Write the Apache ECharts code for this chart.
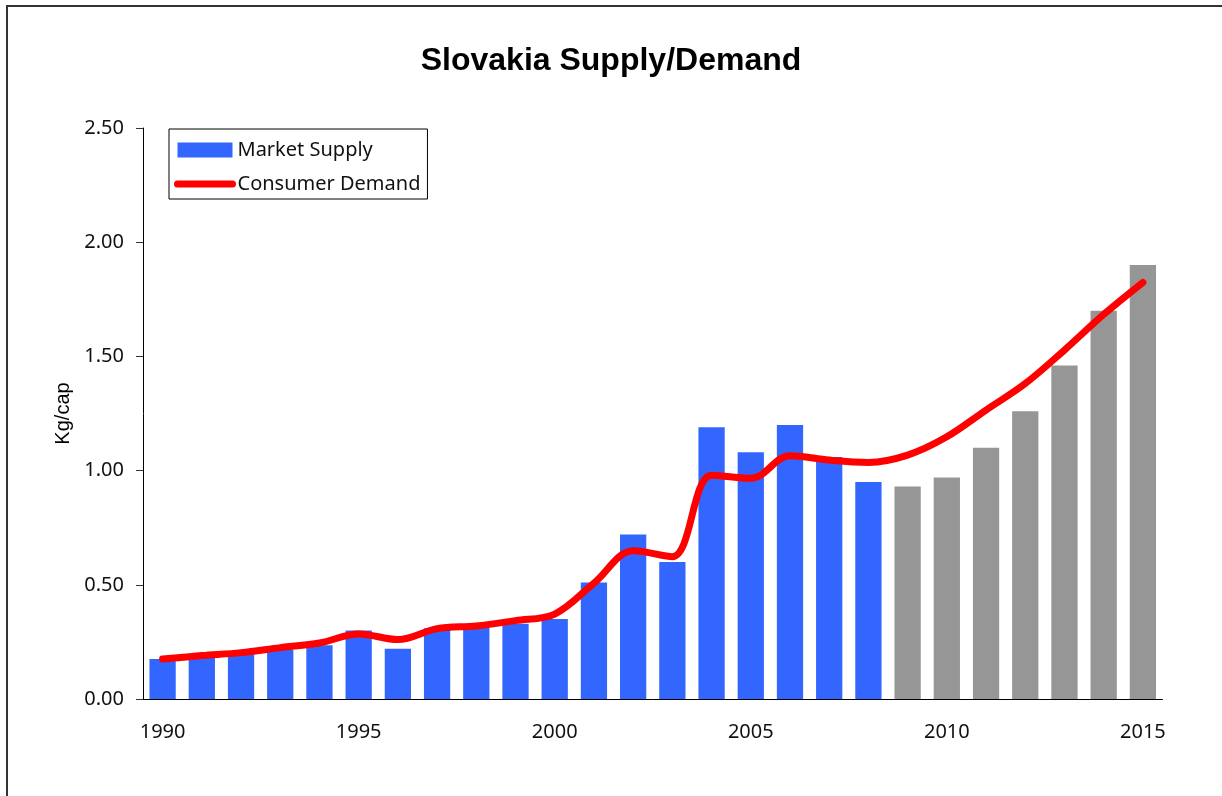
<!DOCTYPE html>
<html>
<head>
<meta charset="utf-8">
<title>Slovakia Supply/Demand</title>
<script src="https://cdn.jsdelivr.net/npm/echarts@6/dist/echarts.min.js"></script>
<style>
  html, body { margin: 0; padding: 0; background: #fff; }
  #chart { width: 1222px; height: 796px; }
</style>
</head>
<body>
<div id="chart"></div>
<script>
// Years on the category axis
const years = ['1990','1991','1992','1993','1994','1995','1996','1997','1998','1999',
               '2000','2001','2002','2003','2004','2005','2006','2007','2008','2009',
               '2010','2011','2012','2013','2014','2015'];

// Market supply, kg per capita (bars)
const marketSupply = [0.175, 0.19, 0.20, 0.215, 0.235, 0.30, 0.22, 0.31, 0.315, 0.33,
                      0.35, 0.51, 0.72, 0.60, 1.19, 1.08, 1.20, 1.06, 0.95, 0.93,
                      0.97, 1.10, 1.26, 1.46, 1.70, 1.90];

// Consumer demand, kg per capita (smoothed line)
const consumerDemand = [0.175, 0.19, 0.203, 0.225, 0.245, 0.285, 0.26, 0.308, 0.32, 0.343,
                        0.372, 0.507, 0.649, 0.623, 0.98, 0.966, 1.065, 1.046, 1.036, 1.068,
                        1.148, 1.265, 1.381, 1.528, 1.684, 1.824];

// Years from here on are projections and drawn in grey
const firstProjectedYear = '2009';

const yTicks = { min: 0, max: 2.5, step: 0.5 };

const BLUE = '#3366FF';
const GREY = '#969696';
const RED = '#FF0000';
const TEXT_FONT = '"Noto Sans", sans-serif';

const projStart = years.indexOf(firstProjectedYear);

const chart = echarts.init(document.getElementById('chart'), null, { renderer: 'canvas' });

chart.setOption({
  backgroundColor: '#ffffff',
  animation: false,
  graphic: [{
    type: 'rect',
    shape: { x: 7, y: 6, width: 1400, height: 1000 },
    style: { fill: 'none', stroke: '#333', lineWidth: 2 },
    silent: true
  }],
  title: {
    text: 'Slovakia Supply/Demand',
    left: 'center',
    top: 40,
    textStyle: {
      fontFamily: '"Liberation Sans", Arial, sans-serif',
      fontWeight: 'bold',
      fontSize: 32,
      color: '#000'
    }
  },
  legend: {
    orient: 'vertical',
    left: 169,
    top: 129,
    padding: [11, 7, 5, 5],
    itemGap: 14,
    itemWidth: 55,
    itemHeight: 15,
    borderColor: '#000',
    borderWidth: 1,
    backgroundColor: '#fff',
    textStyle: { fontFamily: TEXT_FONT, fontSize: 20, color: '#111', padding: [0, 0, 0, 0] },
    data: [
      { name: 'Market Supply', icon: 'rect' },
      {
        name: 'Consumer Demand',
        itemStyle: { opacity: 0 },
        lineStyle: { width: 7, cap: 'round', color: RED }
      }
    ]
  },
  grid: { left: 143, right: 59.5, top: 128, bottom: 97, containLabel: false },
  xAxis: {
    type: 'category',
    data: years,
    boundaryGap: true,
    axisLine: { lineStyle: { color: '#000', width: 1 } },
    axisTick: { interval: 0, length: 7, lineStyle: { color: '#333' } },
    axisLabel: {
      interval: 4,
      margin: 23,
      fontFamily: TEXT_FONT,
      fontSize: 20,
      color: '#111'
    },
    splitLine: { show: false }
  },
  yAxis: {
    type: 'value',
    min: yTicks.min,
    max: yTicks.max,
    interval: yTicks.step,
    name: 'Kg/cap',
    nameLocation: 'middle',
    nameGap: 70,
    nameRotate: 90,
    nameTextStyle: {
      fontFamily: '"Liberation Sans", Arial, sans-serif',
      fontSize: 20,
      color: '#000'
    },
    axisLine: { show: true, lineStyle: { color: '#000', width: 1 } },
    axisTick: { show: true, length: 7, lineStyle: { color: '#333' } },
    axisLabel: {
      margin: 19,
      fontFamily: TEXT_FONT,
      fontSize: 20,
      color: '#111',
      formatter: v => v.toFixed(2)
    },
    splitLine: { show: false }
  },
  series: [
    {
      name: 'Market Supply',
      type: 'bar',
      barWidth: '67%',
      itemStyle: { color: BLUE },
      data: marketSupply.map((v, i) => ({
        value: v,
        itemStyle: { color: i >= projStart ? GREY : BLUE }
      })),
      z: 2
    },
    {
      name: 'Consumer Demand',
      type: 'line',
      data: consumerDemand,
      smooth: 0.35,
      symbol: 'none',
      lineStyle: { color: RED, width: 7, cap: 'round', join: 'round' },
      itemStyle: { color: RED },
      z: 3
    }
  ]
});
</script>
</body>
</html>
